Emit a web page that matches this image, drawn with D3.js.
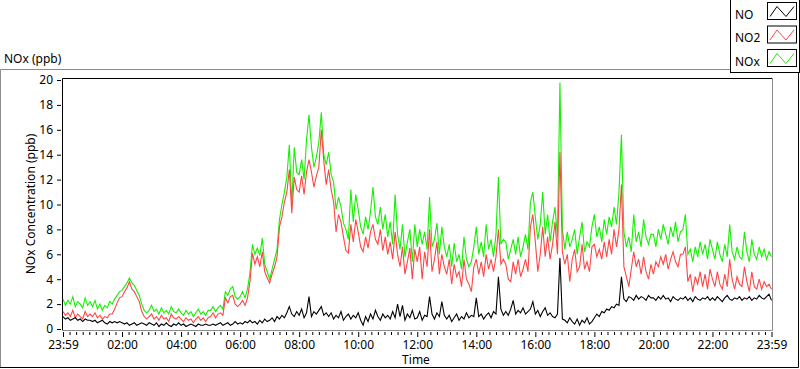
<!DOCTYPE html>
<html>
<head>
<meta charset="utf-8">
<script src="https://cdn.jsdelivr.net/npm/d3@7"></script>
<style>
  html, body { margin: 0; padding: 0; background: #fff; }
  svg { display: block; font-family: "Noto Sans", "Open Sans", sans-serif; }
</style>
</head>
<body>
<div id="chart"></div>
<script>
// ============================================================
//  NOx daily record, 23:59 -> 23:59, one sample every 5 minutes
// ============================================================

const stepMinutes = 5;
const minutes = d3.range(0, 1441, stepMinutes);

// NOx (ppb) - one line per hour
const noxValues = [
  2.4,1.9,2.3,2.0,2.6,1.8,2.2,2.0,1.7,2.5,1.9,2.2,
  1.8,2.3,1.6,2.0,1.5,1.9,1.7,2.2,2.0,2.4,2.7,3.0,
  3.1,3.4,3.7,4.1,3.7,3.5,3.1,2.7,2.0,1.5,1.3,1.5,
  1.9,1.4,1.6,1.2,1.7,1.3,1.5,1.2,1.8,1.4,1.3,1.6,
  1.3,1.1,1.5,1.2,1.4,1.0,1.3,1.6,1.2,1.4,1.1,1.5,
  1.5,1.8,1.4,1.7,1.9,1.6,3.0,2.7,3.2,3.4,2.6,2.4,
  2.6,3.0,2.5,3.2,4.5,6.8,6.0,6.5,5.9,7.3,5.2,4.6,
  4.0,4.8,5.6,6.4,8.8,10.0,11.0,12.2,14.8,10.0,14.6,12.6,
  12.4,13.6,12.0,15.2,17.2,14.6,13.0,13.8,15.0,17.4,14.0,13.2,
  14.2,12.4,11.8,9.6,10.6,9.8,8.5,8.0,7.2,11.2,8.6,10.8,
  9.6,8.2,7.6,9.0,8.0,9.4,11.4,9.0,8.4,9.8,8.0,9.2,
  7.4,8.6,6.8,10.8,7.6,6.4,8.4,5.8,7.0,8.0,5.4,8.4,
  6.6,8.0,6.8,7.8,6.4,10.6,6.6,7.2,8.5,6.0,8.2,6.6,
  5.8,6.8,5.0,6.9,5.4,6.0,4.8,7.4,5.6,5.0,5.4,6.6,
  8.2,6.0,7.0,5.8,8.4,6.4,7.2,5.8,7.6,12.2,6.8,7.2,
  7.0,5.6,6.4,7.2,6.0,7.4,5.8,6.6,7.6,6.4,10.2,11.0,
  9.0,7.2,8.4,11.0,7.6,9.2,7.0,8.6,9.8,7.4,19.8,8.0,
  6.4,7.8,6.6,7.2,8.0,6.0,7.4,8.6,6.2,7.0,6.6,8.2,
  9.2,7.4,8.2,7.0,8.8,7.6,9.0,8.2,9.8,8.4,11.0,15.6,
  7.8,6.6,7.4,6.2,9.2,7.0,7.8,6.6,8.8,7.4,6.8,7.6,
  7.6,6.6,8.0,7.2,8.4,7.6,6.8,8.2,7.4,8.6,7.0,7.8,
  8.0,9.2,6.0,6.4,5.4,6.6,5.8,7.0,6.0,6.8,5.6,7.2,
  6.4,5.6,7.0,6.0,5.4,6.8,5.8,8.4,6.2,5.6,6.6,5.8,
  5.6,7.8,6.2,5.4,7.2,6.0,5.6,6.6,5.8,6.4,5.6,6.2,5.8
];

// NO2 (ppb)
const no2Values = [
  1.4,1.1,1.3,1.0,1.5,0.9,1.2,1.0,0.8,1.4,1.0,1.2,
  1.0,1.3,0.9,1.1,0.8,1.0,0.9,1.2,1.2,1.6,2.1,2.5,
  2.6,3.0,3.3,3.8,3.2,3.0,2.6,2.2,1.4,1.0,0.8,1.0,
  1.2,0.8,1.0,0.7,1.1,0.8,0.9,0.6,1.2,0.9,0.8,1.0,
  0.8,0.6,0.9,0.7,0.8,0.5,0.8,1.0,0.7,0.9,0.6,0.9,
  1.0,1.3,0.9,1.2,1.3,1.1,2.5,2.1,2.6,2.7,2.0,1.8,
  2.0,2.3,1.9,2.5,3.8,6.1,5.2,5.8,5.0,6.2,4.6,4.1,
  3.7,4.4,5.0,5.8,8.2,9.0,10.2,11.0,12.8,9.3,12.2,11.2,
  11.0,12.3,10.8,12.6,13.6,12.6,11.4,12.3,13.0,16.0,13.5,11.6,
  12.8,11.2,10.2,7.8,9.2,8.6,7.4,6.3,6.1,8.4,7.0,8.8,
  7.8,6.6,6.2,7.4,6.5,7.8,8.4,7.2,6.8,8.0,6.3,7.4,
  6.0,7.0,5.6,7.8,6.0,5.0,6.6,4.4,5.4,6.5,4.0,6.4,
  5.4,6.6,4.0,6.2,5.0,8.0,4.6,5.6,7.0,4.4,6.0,5.0,
  4.4,5.6,3.6,5.2,4.2,4.6,3.4,5.6,4.0,3.6,3.0,5.0,
  5.6,4.4,5.4,4.2,6.0,4.8,5.6,4.6,5.8,8.0,5.2,5.6,
  5.2,4.0,3.8,5.4,4.4,5.6,4.2,4.8,5.6,4.6,8.2,9.2,
  7.0,4.6,6.0,8.2,5.8,7.4,5.6,6.8,8.6,6.0,14.2,6.2,
  5.2,6.0,3.8,5.6,6.4,4.6,5.0,6.8,4.8,5.4,4.6,6.6,
  6.8,5.8,6.4,5.6,7.0,5.8,7.2,6.0,8.0,6.6,8.0,11.6,
  5.0,4.2,3.4,4.8,6.2,5.0,5.6,4.4,5.8,4.6,4.0,5.2,
  4.4,5.4,5.0,5.8,5.2,6.0,4.8,5.6,6.2,5.4,5.0,6.0,
  6.0,6.6,3.8,4.4,3.0,4.2,3.6,4.6,3.4,4.4,3.2,4.8,
  4.0,3.4,4.6,3.6,3.2,4.4,3.4,5.6,4.0,3.2,4.2,3.6,
  3.4,5.0,3.8,3.0,4.6,3.4,3.2,4.0,3.2,3.8,3.4,3.6,3.2
];

// NO (ppb)
const noValues = [
  1.0,0.8,0.9,0.7,0.8,0.9,0.7,0.8,0.6,0.8,0.7,0.7,
  0.6,0.7,0.5,0.6,0.7,0.5,0.4,0.6,0.5,0.6,0.5,0.6,
  0.5,0.4,0.5,0.3,0.4,0.5,0.3,0.4,0.5,0.4,0.3,0.5,
  0.4,0.3,0.5,0.2,0.4,0.3,0.5,0.3,0.2,0.4,0.3,0.5,
  0.3,0.4,0.2,0.3,0.4,0.3,0.2,0.4,0.3,0.3,0.4,0.3,
  0.3,0.4,0.3,0.4,0.5,0.3,0.4,0.5,0.3,0.4,0.6,0.4,
  0.5,0.4,0.6,0.5,0.7,0.5,0.6,0.4,0.7,0.5,0.8,0.6,
  0.7,0.9,0.6,1.0,0.8,1.1,0.9,1.3,1.8,1.2,1.0,1.4,
  1.1,1.6,0.9,1.3,2.6,1.0,1.4,1.2,1.5,1.8,1.1,1.3,
  1.0,1.3,0.8,1.1,0.9,1.4,0.7,1.0,1.2,0.8,1.1,0.9,
  1.3,0.7,0.3,1.0,0.6,1.2,0.8,1.5,1.0,0.7,1.2,0.9,
  1.1,0.8,1.4,0.9,2.0,1.0,1.9,0.7,1.2,0.9,1.5,0.8,
  0.9,1.4,0.7,1.1,1.0,2.6,1.2,0.8,1.3,1.0,2.2,1.1,
  0.8,1.1,0.6,0.9,1.2,0.7,1.0,0.8,1.3,0.9,1.1,1.0,
  2.5,1.0,1.2,0.8,1.1,1.3,0.9,1.4,1.2,4.2,1.6,1.1,
  1.4,1.1,1.6,2.3,1.2,1.5,1.3,1.7,1.2,1.4,1.6,2.2,
  1.2,1.5,1.0,1.4,1.7,1.1,1.3,1.0,0.9,1.2,5.7,0.8,
  0.7,0.5,0.9,0.6,0.4,0.8,0.3,0.7,0.5,0.9,0.4,0.6,
  0.9,1.2,1.0,1.4,1.3,1.6,1.5,1.8,1.7,2.0,1.9,4.2,
  2.4,2.2,2.6,2.5,2.3,2.7,2.4,2.6,2.5,2.3,2.7,2.5,
  2.5,2.3,2.6,2.4,2.7,2.4,2.5,2.2,2.6,2.4,2.3,2.5,
  2.4,2.6,2.3,2.5,2.2,2.6,2.4,2.3,2.5,2.4,2.6,2.3,
  2.5,2.3,2.6,2.4,2.2,2.5,2.7,2.4,2.3,2.5,2.4,2.6,
  2.3,2.5,2.4,2.6,2.3,2.5,2.4,2.7,2.5,2.4,2.6,2.8,2.3
];

const seriesNames = ['NO', 'NO2', 'NOx'];
const seriesColors = ['#000000', '#ff4545', '#14f000'];

const yTicks = [0, 2, 4, 6, 8, 10, 12, 14, 16, 18, 20];
const xTickMinutes = d3.range(0, 1441, 120);
const xTickLabels = ['23:59', '02:00', '04:00', '06:00', '08:00', '10:00', '12:00',
                     '14:00', '16:00', '18:00', '20:00', '22:00', '23:59'];

// ============================================================
//  Drawing
// ============================================================

const W = 800, H = 369;
const plot = { left: 62, right: 772, top: 78, bottom: 330 };

const svg = d3.select('#chart').append('svg')
  .attr('width', W)
  .attr('height', H);

const x = d3.scaleLinear().domain([0, 1440]).range([63, 771.5]);
const y = d3.scaleLinear().domain([0, 20]).range([329, 80]);

// outer panel: light top/left, dark bottom/right
svg.append('path')
  .attr('d', `M0.5,368 V69.5 H731`)
  .attr('fill', 'none').attr('stroke', '#8c8c8c');
svg.append('path')
  .attr('d', `M0,367.5 H798.5 V72`)
  .attr('fill', 'none').attr('stroke', '#000');

svg.append('text')
  .attr('x', 4).attr('y', 63)
  .attr('font-size', 12)
  .text('NOx (ppb)');

// plot frame
svg.append('path')
  .attr('d', `M${plot.left + 0.5},${plot.bottom} V${plot.top + 0.5} H${plot.right}`)
  .attr('fill', 'none').attr('stroke', '#000');
svg.append('path')
  .attr('d', `M${plot.left},${plot.bottom + 0.5} H${plot.right + 0.5} V${plot.top}`)
  .attr('fill', 'none').attr('stroke', '#8c8c8c');

// y axis
const yAxis = svg.append('g')
  .attr('transform', 'translate(61,0)')
  .call(d3.axisLeft(y).tickValues(yTicks).tickSize(4).tickPadding(4));
yAxis.select('.domain').remove();
yAxis.selectAll('text').attr('font-size', 12).attr('font-family', 'Noto Sans').attr('fill', '#000');

// x axis: majors every 2 h, 8 minor ticks between
const minorTicks = d3.range(0, 1440, 120 / 9).filter(m => Math.abs(m % 120) > 1);
const xAxisMinor = svg.append('g')
  .attr('transform', 'translate(0,332)')
  .call(d3.axisBottom(x).tickValues(minorTicks).tickSize(3).tickFormat(''));
xAxisMinor.select('.domain').remove();

const xAxis = svg.append('g')
  .attr('transform', 'translate(0,332)')
  .call(d3.axisBottom(x).tickValues(xTickMinutes).tickSize(5).tickPadding(3)
    .tickFormat((d, i) => xTickLabels[i]));
xAxis.select('.domain').remove();
xAxis.selectAll('text').attr('font-size', 12).attr('font-family', 'Noto Sans').attr('fill', '#000');

// axis titles
svg.append('text')
  .attr('x', 416).attr('y', 364)
  .attr('text-anchor', 'middle')
  .attr('font-size', 12)
  .text('Time');

svg.append('text')
  .attr('transform', 'translate(35,204) rotate(-90)')
  .attr('text-anchor', 'middle')
  .attr('font-size', 12)
  .text('NOx Concentration (ppb)');

// series lines (NOx under NO2 under NO)
const plotG = svg.append('g');
const line = d3.line()
  .x(d => x(d[0]))
  .y(d => y(d[1]));

const seriesValues = [noValues, no2Values, noxValues];
[2, 1, 0].forEach(k => {
  plotG.append('path')
    .datum(minutes.map((m, i) => [m, seriesValues[k][i]]))
    .attr('fill', 'none')
    .attr('stroke', seriesColors[k])
    .attr('stroke-width', 1.1)
    .attr('stroke-linejoin', 'miter')
    .attr('d', line);
});

// legend
const legend = svg.append('g');
legend.append('rect')
  .attr('x', 730.5).attr('y', -1)
  .attr('width', 69).attr('height', 73.5)
  .attr('fill', '#fff').attr('stroke', '#000');

seriesNames.forEach((name, k) => {
  const top = 2.5 + k * 23.5;
  legend.append('text')
    .attr('x', 735).attr('y', top + 16)
    .attr('font-size', 12)
    .text(name);
  legend.append('rect')
    .attr('x', 767.5).attr('y', top)
    .attr('width', 29).attr('height', 17)
    .attr('fill', '#fff').attr('stroke', '#000');
  legend.append('path')
    .attr('d', `M770,${top + 14} L777,${top + 4} L786,${top + 14} L794,${top + 4}`)
    .attr('fill', 'none')
    .attr('stroke', seriesColors[k]);
});
</script>
</body>
</html>
